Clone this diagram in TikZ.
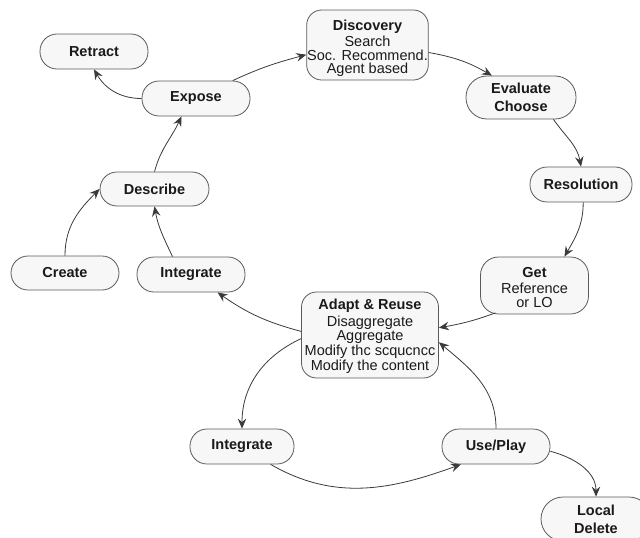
\documentclass[tikz,border=0pt]{standalone}
\usepackage{fontspec}
\setmainfont{Liberation Sans}
\usetikzlibrary{arrows.meta,calc}
\definecolor{boxfill}{HTML}{F7F7F7}
\definecolor{boxline}{HTML}{5A5A5A}
\definecolor{txt}{HTML}{1A1A1A}
\definecolor{arrowc}{HTML}{3A3A3A}
\begin{document}
\begin{tikzpicture}[x=1pt,y=1pt,
  pill/.style={draw=boxline, line width=0.8pt, fill=boxfill, rounded corners=17pt,
    minimum width=108pt, minimum height=35pt, inner sep=1pt, align=center,
    text=txt, font=\fontsize{14.5}{14}\selectfont\bfseries},
  bigbox/.style={draw=boxline, line width=0.8pt, fill=boxfill, rounded corners=15pt,
    inner sep=0.5pt, align=center, text=txt, font=\fontsize{14.5}{14}\selectfont},
  conn/.style={draw=arrowc, line width=0.8pt, -{Stealth[length=10pt,width=8.5pt,inset=3.5pt]}}
]
\useasboundingbox (0,0) rectangle (640,-538);
\clip (0,0) rectangle (640,-538);

% nodes
\node[pill] (retract) at (94,-51.5) {Retract};
\node[pill] (expose) at (196,-98.5) {Expose};
\node[bigbox, minimum width=117pt, minimum height=70pt,
  font=\fontsize{14.5}{13.5}\selectfont] (disc) at (367.5,-45)
  {\rule{0pt}{17pt}\textbf{Discovery}\\[2pt]Search\\Soc. Recommend.\\Agent based};
\node[pill, minimum width=110pt, minimum height=43pt, rounded corners=21pt,
  font=\fontsize{14.5}{18}\selectfont\bfseries] (eval) at (521,-97.5) {Evaluate\\Choose};
\node[pill, minimum width=102pt] (resol) at (581,-184.5) {Resolution};
\node[bigbox, minimum width=108pt, minimum height=57pt, rounded corners=18pt] (get) at (534.5,-285.5)
  {\rule{0pt}{14pt}\textbf{Get}\\[2pt]Reference\\or LO};
\node[bigbox, minimum width=137pt, minimum height=86pt,
  font=\fontsize{14.5}{14.7}\selectfont] (adapt) at (370,-335)
  {\rule{0pt}{13pt}\textbf{Adapt \& Reuse}\\[1.5pt]Disaggregate\\Aggregate\\Modify thc scqucncc\\Modify the content};
\node[pill, minimum width=109pt, minimum height=34pt] (describe) at (154.5,-189) {Describe};
\node[pill, minimum height=34pt] (create) at (65,-273) {Create};
\node[pill] (integ1) at (191,-274.5) {Integrate};
\node[pill, minimum width=104pt] (integ2) at (242,-446.5) {Integrate};
\node[pill] (use) at (496,-446.5) {Use/Play};
\node[pill, minimum width=110pt, minimum height=44pt, rounded corners=22pt,
  font=\fontsize{14.5}{18}\selectfont\bfseries] (local) at (596,-519) {Local\\Delete};

% connectors
\draw[conn] (expose.26) to[out=25,in=195] (disc.189);
\draw[conn] (expose.west) to[out=180,in=-60] (retract.south);
\draw[conn] (describe.north) to[out=75,in=-115] (expose.231);
\draw[conn] (create.north) to[out=90,in=-135] (describe.west);
\draw[conn] (integ1.136) to[out=115,in=-80] (describe.south);
\draw[conn] (adapt.177) to[out=165,in=-35] (integ1.-34);
\draw[conn] (disc.-7) to[out=-10,in=150] (eval.143);
\draw[conn] (eval.-34) to[out=-55,in=100] (resol.north);
\draw[conn] (resol.-83) to[out=-90,in=60] (get.44);
\draw[conn] ($(get.south)+(-39,1.5)$) to[out=200,in=10] (adapt.6);
\draw[conn] (adapt.183) to[out=205,in=90] (integ2.north);
\draw[conn] (integ2.-32) to[out=-30,in=-160] (use.207);
\draw[conn] (use.north) to[out=90,in=-40] (adapt.-6);
\draw[conn] (use.-5) to[out=-15,in=90] (local.north);
\end{tikzpicture}
\end{document}
